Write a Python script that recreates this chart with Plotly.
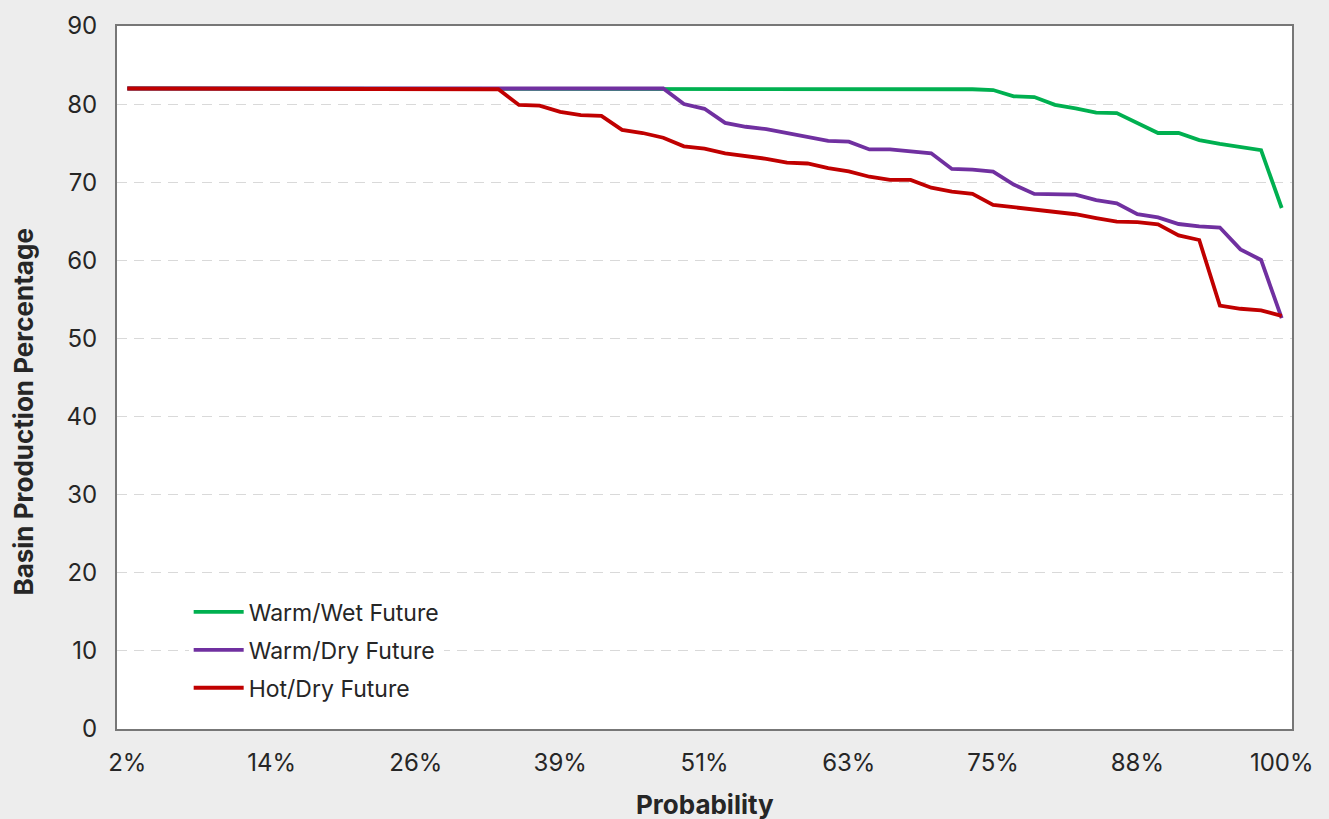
import plotly.graph_objects as go

# probability categories (57 ranked years)
probability = ["2%", "4%", "5%", "7%", "9%", "11%", "12%", "14%", "16%", "18%",
               "19%", "21%", "23%", "25%", "26%", "28%", "30%", "32%", "33%", "35%",
               "37%", "39%", "40%", "42%", "44%", "46%", "47%", "49%", "51%", "53%",
               "54%", "56%", "58%", "60%", "61%", "63%", "65%", "67%", "68%", "70%",
               "72%", "74%", "75%", "77%", "79%", "81%", "82%", "84%", "86%", "88%",
               "89%", "91%", "93%", "95%", "96%", "98%", "100%"]

warm_wet = [82] * 41 + [81.9, 81.8, 81.0, 80.9, 79.9, 79.45, 78.9, 78.85, 77.6, 76.3,
                        76.3, 75.4, 74.9, 74.45, 74.1, 66.7]

warm_dry = [82] * 27 + [80.0, 79.4, 77.6, 77.1, 76.8, 76.3, 75.8, 75.3, 75.2, 74.2,
                        74.2, 73.95, 73.7, 71.7, 71.6, 71.35, 69.7, 68.5, 68.4, 68.4,
                        67.7, 67.3, 65.9, 65.5, 64.65, 64.35, 64.2, 61.4, 60.05, 52.6]

hot_dry = [82] * 18 + [81.9, 79.9, 79.8, 79.0, 78.6, 78.5, 76.7, 76.3, 75.7, 74.6,
                       74.3, 73.7, 73.4, 73.0, 72.5, 72.4, 71.8, 71.4, 70.7, 70.3,
                       70.3, 69.3, 68.8, 68.5, 67.1, 66.8, 66.6, 66.3, 65.9, 65.4,
                       64.95, 64.9, 64.6, 63.2, 62.6, 54.2, 53.8, 53.6, 52.9]

names = ["Warm/Wet Future", "Warm/Dry Future", "Hot/Dry Future"]
colors = ["#00b050", "#7030a0", "#c00000"]

font = "Inter, Roboto, sans-serif"
bg = "#ededed"

fig = go.Figure()
for name, vals, col in zip(names, [warm_wet, warm_dry, hot_dry], colors):
    fig.add_trace(go.Scatter(x=probability, y=vals, mode="lines", name=name,
                             legendgroup=name,
                             line=dict(color=col, width=3.8)))

fig.update_layout(
    width=1329, height=819,
    margin={"l": 117, "r": 37, "t": 26, "b": 90},
    paper_bgcolor=bg,
    plot_bgcolor="white",
    font=dict(family=font, color="#262626", size=24),
    showlegend=True,
    legend=dict(x=0.061, y=0.197, xanchor="left", yanchor="top",
                bgcolor="white", font=dict(size=23),
                tracegroupgap=5, itemwidth=50),
)

fig.update_xaxes(type="category", range=[-0.5, 56.5],
                 tickmode="array", tickvals=probability[::7],
                 showline=True, mirror=True, linecolor="#777777", linewidth=2,
                 showgrid=False, ticks="", ticklabelstandoff=11)
fig.update_yaxes(range=[0, 90], dtick=10,
                 showline=True, mirror=True, linecolor="#777777", linewidth=2,
                 showgrid=True, gridcolor="#d9d9d9", griddash="10px,7px",
                 zeroline=False, ticks="", ticklabelstandoff=13)

fig.add_annotation(text="Basin Production Percentage", textangle=-90,
                   xref="paper", yref="paper", x=-0.0804, y=0.4509,
                   xanchor="center", yanchor="middle", showarrow=False,
                   font=dict(size=26, weight="bold", color="#262626"))
fig.add_annotation(text="Probability",
                   xref="paper", yref="paper", x=0.5004, y=-0.107,
                   xanchor="center", yanchor="middle", showarrow=False,
                   font=dict(size=26, weight="bold", color="#262626"))

# drop the default page margin so the figure fills the window
fig.write_html("out.html", config={"displayModeBar": False},
               post_script="document.body.style.margin='0';"
                           "document.body.style.background='" + bg + "';")
